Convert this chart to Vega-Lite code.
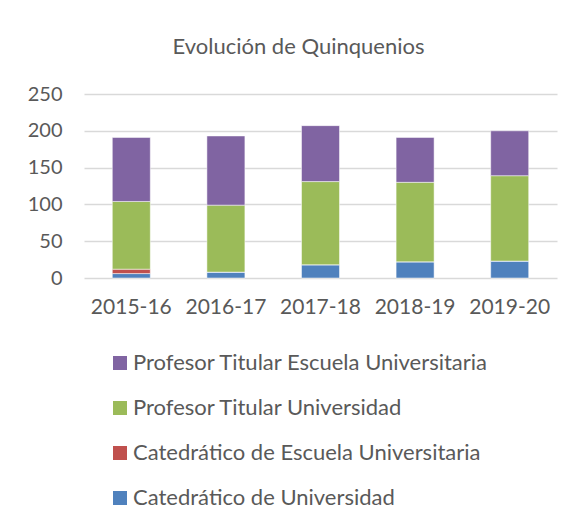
{
  "$schema": "https://vega.github.io/schema/vega-lite/v6.json",
  "autosize": "none",
  "width": 473,
  "height": 184,
  "padding": {"left": 84, "top": 94, "right": 22, "bottom": 244},
  "background": "white",
  "title": {
    "text": "Evolución de Quinquenios",
    "anchor": "middle",
    "dx": -22,
    "offset": 25,
    "font": "Lato",
    "fontSize": 22,
    "fontWeight": "normal",
    "color": "#595959"
  },
  "data": {
    "values": [
      {"curso": "2015-16", "serie": "Catedrático de Universidad", "valor": 6, "ord": 1},
      {"curso": "2015-16", "serie": "Catedrático de Escuela Universitaria", "valor": 6, "ord": 2},
      {"curso": "2015-16", "serie": "Profesor Titular Universidad", "valor": 92, "ord": 3},
      {"curso": "2015-16", "serie": "Profesor Titular Escuela Universitaria", "valor": 87, "ord": 4},
      {"curso": "2016-17", "serie": "Catedrático de Universidad", "valor": 8, "ord": 1},
      {"curso": "2016-17", "serie": "Catedrático de Escuela Universitaria", "valor": 0, "ord": 2},
      {"curso": "2016-17", "serie": "Profesor Titular Universidad", "valor": 91, "ord": 3},
      {"curso": "2016-17", "serie": "Profesor Titular Escuela Universitaria", "valor": 94, "ord": 4},
      {"curso": "2017-18", "serie": "Catedrático de Universidad", "valor": 18, "ord": 1},
      {"curso": "2017-18", "serie": "Catedrático de Escuela Universitaria", "valor": 0, "ord": 2},
      {"curso": "2017-18", "serie": "Profesor Titular Universidad", "valor": 113, "ord": 3},
      {"curso": "2017-18", "serie": "Profesor Titular Escuela Universitaria", "valor": 76, "ord": 4},
      {"curso": "2018-19", "serie": "Catedrático de Universidad", "valor": 22, "ord": 1},
      {"curso": "2018-19", "serie": "Catedrático de Escuela Universitaria", "valor": 0, "ord": 2},
      {"curso": "2018-19", "serie": "Profesor Titular Universidad", "valor": 108, "ord": 3},
      {"curso": "2018-19", "serie": "Profesor Titular Escuela Universitaria", "valor": 61, "ord": 4},
      {"curso": "2019-20", "serie": "Catedrático de Universidad", "valor": 23, "ord": 1},
      {"curso": "2019-20", "serie": "Catedrático de Escuela Universitaria", "valor": 0, "ord": 2},
      {"curso": "2019-20", "serie": "Profesor Titular Universidad", "valor": 116, "ord": 3},
      {"curso": "2019-20", "serie": "Profesor Titular Escuela Universitaria", "valor": 61, "ord": 4}
    ]
  },
  "mark": {"type": "bar", "size": 38, "stroke": "white", "strokeWidth": 0.5},
  "encoding": {
    "x": {
      "field": "curso",
      "type": "nominal",
      "scale": {"paddingInner": 0, "paddingOuter": 0},
      "axis": {
        "title": null,
        "labelAngle": 0,
        "domain": false,
        "ticks": false,
        "labelPadding": 18,
        "labelFont": "Lato",
        "labelFontSize": 21,
        "labelColor": "#595959"
      }
    },
    "y": {
      "field": "valor",
      "type": "quantitative",
      "stack": "zero",
      "scale": {"domain": [0, 250], "nice": false},
      "axis": {
        "title": null,
        "values": [0, 50, 100, 150, 200, 250],
        "domain": false,
        "ticks": false,
        "labelPadding": 22,
        "labelFont": "Lato",
        "labelFontSize": 20,
        "labelColor": "#595959",
        "gridColor": "#d9d9d9",
        "gridWidth": 1.5
      }
    },
    "order": {"field": "ord", "type": "quantitative", "sort": "ascending"},
    "color": {
      "field": "serie",
      "type": "nominal",
      "scale": {
        "domain": ["Profesor Titular Escuela Universitaria", "Profesor Titular Universidad", "Catedrático de Escuela Universitaria", "Catedrático de Universidad"],
        "range": ["#8064A2", "#9BBB59", "#C0504D", "#4F81BD"]
      },
      "legend": {
        "title": null,
        "orient": "none",
        "legendX": 25,
        "legendY": 258,
        "symbolType": "square",
        "symbolSize": 196,
        "symbolStrokeWidth": 0,
        "labelFont": "Lato",
        "labelFontSize": 22,
        "labelColor": "#595959",
        "labelOffset": 2,
        "rowPadding": 23,
        "labelLimit": 500
      }
    }
  },
  "config": {"view": {"stroke": null}}
}
